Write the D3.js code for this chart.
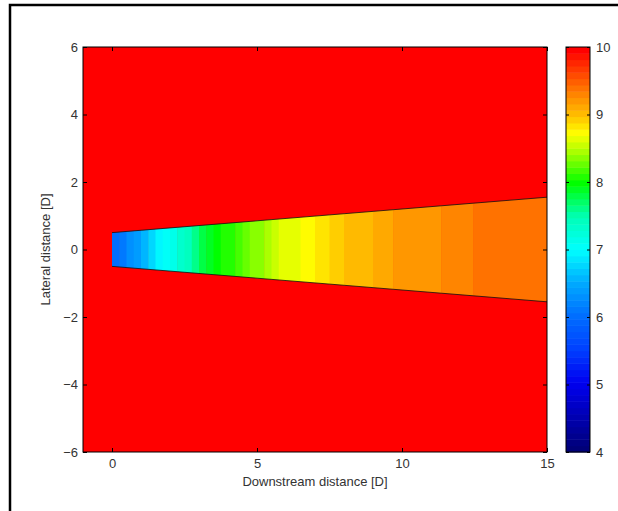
<!DOCTYPE html>
<html>
<head>
<meta charset="utf-8">
<script src="https://cdn.jsdelivr.net/npm/d3@7"></script>
<style>
body { margin: 0; background: #fff; }
text { font-family: Arial, "Liberation Sans", sans-serif; }
</style>
</head>
<body>
<div id="chart"></div>
<script>
// band start positions along the wake [D] and wind speed read in each band [m/s]
const bandX = [0, 0.25, 0.5, 0.75, 1, 1.25, 1.5, 1.75, 2, 2.25, 2.5, 2.75, 3, 3.25,
  3.5, 3.75, 4, 4.25, 4.5, 4.75, 5, 5.25, 5.5, 5.75, 6, 6.5, 7, 7.5, 8, 8.5, 9, 9.7,
  11.35, 12.45];
const bandSpeed = [6.0, 6.1, 6.25, 6.4, 6.55, 6.75, 6.95, 7.05, 7.15, 7.3, 7.45, 7.6,
  7.75, 7.85, 7.95, 8.05, 8.12, 8.2, 8.27, 8.34, 8.4, 8.47, 8.53, 8.6, 8.66, 8.75,
  8.83, 8.9, 8.97, 9.05, 9.1, 9.18, 9.28, 9.38];
const wakeEnd = 15;

// wake edge: downstream distance and half width [D]
const wakeX = [0, 15];
const wakeHalf = [0.5, 1.55];

const freeSpeed = 10;
const xTicks = [0, 5, 10, 15];
const yTicks = [-6, -4, -2, 0, 2, 4, 6];
const cbTicks = [4, 5, 6, 7, 8, 9, 10];

// colour map as seen on the colour bar
const cmapV = [4.0, 5.0, 5.5, 6.0, 6.5, 7.0, 7.5, 8.0, 8.5, 8.75, 9.0, 9.3, 9.6, 10.0];
const cmapC = ["#000078", "#0000f0", "#0040ff", "#006eff", "#00aaff", "#00ffff",
  "#00ffb4", "#00ff00", "#b4ff00", "#ffff00", "#ffc300", "#ff8c00", "#ff5000", "#ff0000"];
const nLevels = 64;

var svgWidth = 618;
var svgHeight = 511;

var svg = d3.select("#chart")
  .append("svg")
  .attr("width", svgWidth)
  .attr("height", svgHeight);

// outer frame
svg.append("rect")
  .attr("x", 10).attr("y", 5)
  .attr("width", 700).attr("height", 600)
  .attr("fill", "none")
  .attr("stroke", "#000")
  .attr("stroke-width", 2.5);

var plot = {left: 83, right: 547, top: 47, bottom: 452};

var xScale = d3.scaleLinear().domain([-1, 15]).range([plot.left, plot.right]);
var yScale = d3.scaleLinear().domain([-6, 6]).range([plot.bottom, plot.top]);

var cmap = d3.scaleLinear().domain(cmapV).range(cmapC).clamp(true);
var step = (10 - 4) / nLevels;
function levelIndex(v) {
  return Math.min(nLevels - 1, Math.max(0, Math.floor((v - 4) / step)));
}
function levelColor(i) {
  return cmap(4 + i * (10 - 4) / (nLevels - 1));
}

// background free stream
svg.append("rect")
  .attr("x", plot.left).attr("y", plot.top)
  .attr("width", plot.right - plot.left)
  .attr("height", plot.bottom - plot.top)
  .attr("fill", levelColor(levelIndex(freeSpeed)));

// wake polygon
var wakePts = [
  [wakeX[0], wakeHalf[0]], [wakeX[1], wakeHalf[1]],
  [wakeX[1], -wakeHalf[1]], [wakeX[0], -wakeHalf[0]]
];
svg.append("clipPath").attr("id", "wake")
  .append("polygon")
  .attr("points", wakePts.map(p => xScale(p[0]) + "," + yScale(p[1])).join(" "));

var bandEnd = bandX.slice(1).concat([wakeEnd]);
svg.append("g").attr("clip-path", "url(#wake)")
  .selectAll("rect")
  .data(bandX)
  .enter()
  .append("rect")
  .attr("x", d => xScale(d))
  .attr("width", (d, i) => xScale(bandEnd[i]) - xScale(d) + 0.5)
  .attr("y", yScale(wakeHalf[1]))
  .attr("height", yScale(-wakeHalf[1]) - yScale(wakeHalf[1]))
  .attr("fill", (d, i) => levelColor(levelIndex(bandSpeed[i])));

// wake edges
[1, -1].forEach(s => {
  svg.append("line")
    .attr("x1", xScale(wakeX[0])).attr("y1", yScale(s * wakeHalf[0]))
    .attr("x2", xScale(wakeX[1])).attr("y2", yScale(s * wakeHalf[1]))
    .attr("stroke", "#111")
    .attr("stroke-width", 1)
    .attr("stroke-opacity", 0.8);
});

// axes with inward ticks, MATLAB style
function styleAxis(g) {
  g.select(".domain").remove();
  g.selectAll("line").attr("stroke", "#000");
  g.selectAll("text").attr("font-size", 13).attr("fill", "#333");
}

svg.append("g")
  .attr("transform", `translate(0, ${plot.bottom})`)
  .call(d3.axisBottom(xScale).tickValues(xTicks).tickSize(-4).tickPadding(7)
    .tickFormat(d3.format("d")))
  .call(styleAxis);
svg.append("g")
  .attr("transform", `translate(0, ${plot.top})`)
  .call(d3.axisTop(xScale).tickValues(xTicks).tickSize(-4).tickFormat(""))
  .call(styleAxis);
svg.append("g")
  .attr("transform", `translate(${plot.left}, 0)`)
  .call(d3.axisLeft(yScale).tickValues(yTicks).tickSize(-4).tickPadding(5)
    .tickFormat(d3.format("d")))
  .call(styleAxis);
svg.append("g")
  .attr("transform", `translate(${plot.right}, 0)`)
  .call(d3.axisRight(yScale).tickValues(yTicks).tickSize(-4).tickFormat(""))
  .call(styleAxis);

svg.append("rect")
  .attr("x", plot.left).attr("y", plot.top)
  .attr("width", plot.right - plot.left)
  .attr("height", plot.bottom - plot.top)
  .attr("fill", "none")
  .attr("stroke", "#000");

// axis labels
svg.append("text")
  .attr("x", (plot.left + plot.right) / 2)
  .attr("y", 486)
  .attr("text-anchor", "middle")
  .attr("font-size", 13)
  .attr("fill", "#333")
  .text("Downstream distance [D]");

svg.append("text")
  .attr("text-anchor", "middle")
  .attr("transform", `translate(50, ${(plot.top + plot.bottom) / 2}) rotate(-90)`)
  .attr("font-size", 13)
  .attr("fill", "#333")
  .text("Lateral distance [D]");

// colour bar
var cb = {left: 566, right: 590};
var cbScale = d3.scaleLinear().domain([4, 10]).range([plot.bottom, plot.top]);
var levels = d3.range(nLevels);

svg.append("g")
  .selectAll("rect")
  .data(levels)
  .enter()
  .append("rect")
  .attr("x", cb.left)
  .attr("width", cb.right - cb.left)
  .attr("y", d => cbScale(4 + (d + 1) * step))
  .attr("height", cbScale(4) - cbScale(4 + step) + 0.5)
  .attr("fill", d => levelColor(d));

svg.append("g")
  .attr("transform", `translate(${cb.right}, 0)`)
  .call(d3.axisRight(cbScale).tickValues(cbTicks).tickSize(-3).tickPadding(6)
    .tickFormat(d3.format("d")))
  .call(styleAxis);
svg.append("g")
  .attr("transform", `translate(${cb.left}, 0)`)
  .call(d3.axisLeft(cbScale).tickValues(cbTicks).tickSize(-3).tickFormat(""))
  .call(styleAxis);

svg.append("rect")
  .attr("x", cb.left).attr("y", plot.top)
  .attr("width", cb.right - cb.left)
  .attr("height", plot.bottom - plot.top)
  .attr("fill", "none")
  .attr("stroke", "#000");
</script>
</body>
</html>
